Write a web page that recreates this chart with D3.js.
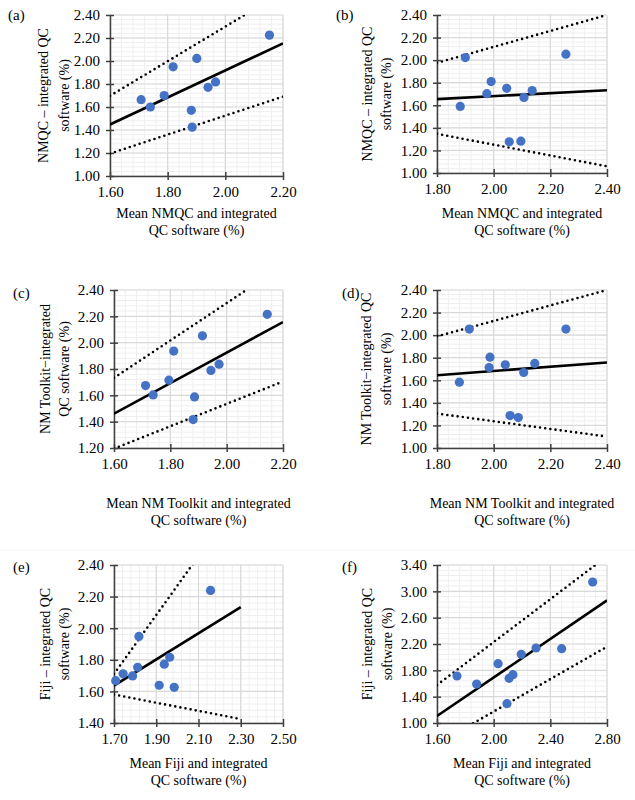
<!DOCTYPE html>
<html>
<head>
<meta charset="utf-8">
<script src="https://cdn.jsdelivr.net/npm/d3@7"></script>
<style>
  html, body { margin: 0; padding: 0; background: #fff; }
  svg text { font-family: "Liberation Serif", "Times New Roman", serif; fill: #000; }
</style>
</head>
<body>
<div class="ChartWrapper"></div>
<script>
/* ---------- data ---------- */
// (a) NMQC vs integrated QC
const meanA = [1.708, 1.740, 1.788, 1.819, 1.901, 1.882, 1.885, 1.940, 1.966, 2.153];
const diffA = [1.664, 1.600, 1.699, 1.949, 2.022, 1.571, 1.425, 1.771, 1.818, 2.225];
const fitA = [[1.60, 1.448], [2.20, 2.153]];
const upperA = [[1.60, 1.697], [2.20, 2.600]];
const lowerA = [[1.60, 1.195], [2.20, 1.690]];

// (b) NMQC vs integrated QC
const meanB = [1.882, 1.900, 1.976, 1.991, 2.046, 2.107, 2.136, 2.055, 2.096, 2.255];
const diffB = [1.590, 2.023, 1.703, 1.810, 1.750, 1.670, 1.730, 1.276, 1.282, 2.053];
const fitB = [[1.80, 1.655], [2.40, 1.733]];
const upperB = [[1.80, 1.976], [2.40, 2.400]];
const lowerB = [[1.80, 1.347], [2.40, 1.059]];

// (c) NM Toolkit vs integrated QC
const meanC = [1.712, 1.739, 1.795, 1.812, 1.914, 1.886, 1.881, 1.944, 1.973, 2.144];
const diffC = [1.674, 1.603, 1.715, 1.936, 2.052, 1.588, 1.416, 1.789, 1.837, 2.215];
const fitC = [[1.60, 1.461], [2.20, 2.156]];
const upperC = [[1.60, 1.733], [2.20, 2.584]];
const lowerC = [[1.60, 1.195], [2.20, 1.705]];

// (d) NM Toolkit vs integrated QC
const meanD = [1.879, 1.914, 1.984, 1.987, 2.041, 2.106, 2.145, 2.058, 2.087, 2.255];
const diffD = [1.583, 2.054, 1.713, 1.805, 1.737, 1.669, 1.749, 1.287, 1.270, 2.054];
const fitD = [[1.80, 1.645], [2.40, 1.758]];
const upperD = [[1.80, 1.989], [2.40, 2.400]];
const lowerD = [[1.80, 1.305], [2.40, 1.101]];

// (e) Fiji vs integrated QC
const meanE = [1.708, 1.743, 1.788, 1.812, 1.818, 1.914, 1.938, 1.964, 1.985, 2.157];
const diffE = [1.668, 1.711, 1.698, 1.753, 1.948, 1.639, 1.772, 1.816, 1.626, 2.239];
const fitE = [[1.70, 1.637], [2.30, 2.134]];
const upperE = [[1.70, 1.710], [2.30, 2.829]];
const lowerE = [[1.70, 1.580], [2.30, 1.425]];

// (f) Fiji vs integrated QC
const meanF = [1.741, 1.880, 2.031, 2.109, 2.136, 2.094, 2.195, 2.299, 2.480, 2.699];
const diffF = [1.714, 1.592, 1.901, 1.678, 1.734, 1.294, 2.043, 2.139, 2.129, 3.142];
const fitF = [[1.60, 1.106], [2.80, 2.863]];
const upperF = [[1.60, 1.577], [2.80, 3.533]];
const lowerF = [[1.60, 0.681], [2.80, 2.159]];

// axis ticks
const xTicksA = [1.60, 1.80, 2.00, 2.20];
const xTicksB = [1.80, 2.00, 2.20, 2.40];
const xTicksE = [1.70, 1.90, 2.10, 2.30, 2.50];
const xTicksF = [1.60, 2.00, 2.40, 2.80];
const yTicksA = [1.00, 1.20, 1.40, 1.60, 1.80, 2.00, 2.20, 2.40];
const yTicksC = [1.20, 1.40, 1.60, 1.80, 2.00, 2.20, 2.40];
const yTicksE = [1.40, 1.60, 1.80, 2.00, 2.20, 2.40];
const yTicksF = [1.00, 1.40, 1.80, 2.20, 2.60, 3.00, 3.40];

const panelLabels = ['(a)', '(b)', '(c)', '(d)', '(e)', '(f)'];
const yTitles = [
  ['NMQC \u2013 integrated QC', 'software (%)'],
  ['NMQC \u2013 integrated QC', 'software  (%)'],
  ['NM Toolkit\u2212integrated', 'QC software  (%)'],
  ['NM Toolkit\u2212integrated QC', 'software (%)'],
  ['Fiji \u2013 integrated QC', 'software  (%)'],
  ['Fiji \u2013 integrated QC', 'software  (%)'],
];
const xTitles = [
  ['Mean NMQC and integrated', 'QC software (%)'],
  ['Mean NMQC and integrated', 'QC software (%)'],
  ['Mean NM Toolkit and integrated', 'QC software  (%)'],
  ['Mean NM Toolkit and integrated', 'QC software  (%)'],
  ['Mean Fiji and integrated', 'QC software  (%)'],
  ['Mean Fiji and integrated', 'QC software (%)'],
];

/* ---------- layout ---------- */
const LAYOUT = [
  { x0: 110, x1: 283, y0: 15, y1: 176, lab: [8, 20], yt: [43, 64], xt: 218 },
  { x0: 437, x1: 607, y0: 15, y1: 173, lab: [336, 20], yt: [367, 386], xt: 218 },
  { x0: 114, x1: 283, y0: 290, y1: 448, lab: [13, 298], yt: [45, 64], xt: 508 },
  { x0: 437, x1: 607, y0: 290, y1: 448, lab: [342, 298], yt: [366, 386], xt: 508 },
  { x0: 114, x1: 283, y0: 565, y1: 723, lab: [13, 572], yt: [45, 64], xt: 768 },
  { x0: 437, x1: 607, y0: 565, y1: 723, lab: [342, 572], yt: [367, 387], xt: 768 },
];

const panels = [
  { mean: meanA, diff: diffA, fit: fitA, up: upperA, lo: lowerA, xt: xTicksA, yt: yTicksA },
  { mean: meanB, diff: diffB, fit: fitB, up: upperB, lo: lowerB, xt: xTicksB, yt: yTicksA },
  { mean: meanC, diff: diffC, fit: fitC, up: upperC, lo: lowerC, xt: xTicksA, yt: yTicksC },
  { mean: meanD, diff: diffD, fit: fitD, up: upperD, lo: lowerD, xt: xTicksB, yt: yTicksA },
  { mean: meanE, diff: diffE, fit: fitE, up: upperE, lo: lowerE, xt: xTicksE, yt: yTicksE },
  { mean: meanF, diff: diffF, fit: fitF, up: upperF, lo: lowerF, xt: xTicksF, yt: yTicksF },
];

const STYLE = {
  font: 14,
  tickFont: 15,
  dot: '#4472C4',
  r: 4.6,
  axis: '#404040',
  major: '#d9d9d9',
  minor: '#efefef',
  minorSteps: 5,
};

const svg = d3.select('.ChartWrapper')
  .append('svg')
  .attr('width', 635)
  .attr('height', 800);

// faint separator seen in the figure
svg.append('line').attr('x1', 0).attr('x2', 635).attr('y1', 550).attr('y2', 550)
  .attr('stroke', '#f4f4f4').attr('stroke-width', 1);

const fmt = d3.format('.2f');

panels.forEach((p, i) => {
  const L = LAYOUT[i];
  const x = d3.scaleLinear().domain(d3.extent(p.xt)).range([L.x0, L.x1]);
  const y = d3.scaleLinear().domain(d3.extent(p.yt)).range([L.y1, L.y0]);
  const g = svg.append('g').classed('panel', true);

  const clipId = 'clip' + i;
  g.append('clipPath').attr('id', clipId)
    .append('rect')
    .attr('x', L.x0).attr('y', L.y0)
    .attr('width', L.x1 - L.x0).attr('height', L.y1 - L.y0);

  // minor grid
  const xStep = (p.xt[1] - p.xt[0]) / STYLE.minorSteps;
  const yStep = (p.yt[1] - p.yt[0]) / STYLE.minorSteps;
  const xMinor = d3.range(p.xt[0], p.xt[p.xt.length - 1] + xStep / 2, xStep);
  const yMinor = d3.range(p.yt[0], p.yt[p.yt.length - 1] + yStep / 2, yStep);

  g.append('g').selectAll('line')
    .data(xMinor).enter().append('line')
    .attr('x1', d => x(d)).attr('x2', d => x(d))
    .attr('y1', L.y0).attr('y2', L.y1)
    .attr('stroke', STYLE.minor).attr('stroke-width', 1);
  g.append('g').selectAll('line')
    .data(yMinor).enter().append('line')
    .attr('y1', d => y(d)).attr('y2', d => y(d))
    .attr('x1', L.x0).attr('x2', L.x1)
    .attr('stroke', STYLE.minor).attr('stroke-width', 1);

  // major grid
  g.append('g').selectAll('line')
    .data(p.xt).enter().append('line')
    .attr('x1', d => x(d)).attr('x2', d => x(d))
    .attr('y1', L.y0).attr('y2', L.y1)
    .attr('stroke', STYLE.major).attr('stroke-width', 1.2);
  g.append('g').selectAll('line')
    .data(p.yt).enter().append('line')
    .attr('y1', d => y(d)).attr('y2', d => y(d))
    .attr('x1', L.x0).attr('x2', L.x1)
    .attr('stroke', STYLE.major).attr('stroke-width', 1.2);

  // axes
  const xAxis = d3.axisBottom(x).tickValues(p.xt).tickFormat(fmt).tickSizeInner(4).tickSizeOuter(0).tickPadding(6);
  const yAxis = d3.axisLeft(y).tickValues(p.yt).tickFormat(fmt).tickSizeInner(4).tickSizeOuter(0).tickPadding(6);

  const gx = g.append('g').attr('transform', `translate(0,${L.y1})`).call(xAxis);
  const gy = g.append('g').attr('transform', `translate(${L.x0},0)`).call(yAxis);
  [gx, gy].forEach(a => {
    a.select('.domain').attr('stroke', STYLE.axis).attr('stroke-width', 1.5);
    a.selectAll('.tick line').attr('stroke', STYLE.axis).attr('stroke-width', 1.5);
    a.selectAll('.tick text').attr('font-size', STYLE.tickFont)
      .attr('font-family', '"Liberation Serif", serif').attr('fill', '#000');
  });
  // cross ticks
  gx.selectAll('.tick line').attr('y1', -4).attr('y2', 4);
  gy.selectAll('.tick line').attr('x1', -4).attr('x2', 4);

  // lines (fit + limits)
  const line = d3.line().x(d => x(d[0])).y(d => y(d[1]));
  const lines = g.append('g').attr('clip-path', `url(#${clipId})`);
  lines.append('path').attr('d', line(p.up)).attr('fill', 'none')
    .attr('stroke', '#000').attr('stroke-width', 2.6)
    .attr('stroke-linecap', 'round').attr('stroke-dasharray', '0 5.2');
  lines.append('path').attr('d', line(p.lo)).attr('fill', 'none')
    .attr('stroke', '#000').attr('stroke-width', 2.6)
    .attr('stroke-linecap', 'round').attr('stroke-dasharray', '0 5.2');
  lines.append('path').attr('d', line(p.fit)).attr('fill', 'none')
    .attr('stroke', '#000').attr('stroke-width', 2.6);

  // points
  g.append('g').selectAll('circle')
    .data(d3.zip(p.mean, p.diff)).enter().append('circle')
    .attr('cx', d => x(d[0])).attr('cy', d => y(d[1]))
    .attr('r', STYLE.r).attr('fill', STYLE.dot);

  // panel label
  g.append('text').attr('x', L.lab[0]).attr('y', L.lab[1])
    .attr('font-size', 15).text(panelLabels[i]);

  // y title (two lines, rotated)
  const yc = (L.y0 + L.y1) / 2;
  yTitles[i].forEach((t, k) => {
    g.append('text')
      .attr('transform', `translate(${L.yt[k]},${yc}) rotate(-90)`)
      .attr('text-anchor', 'middle')
      .attr('dominant-baseline', 'central')
      .attr('font-size', STYLE.font)
      .text(t);
  });

  // x title (two lines)
  const xc = (L.x0 + L.x1) / 2;
  xTitles[i].forEach((t, k) => {
    g.append('text')
      .attr('x', xc).attr('y', L.xt + k * 17)
      .attr('text-anchor', 'middle')
      .attr('font-size', STYLE.font)
      .text(t);
  });
});
</script>
</body>
</html>
